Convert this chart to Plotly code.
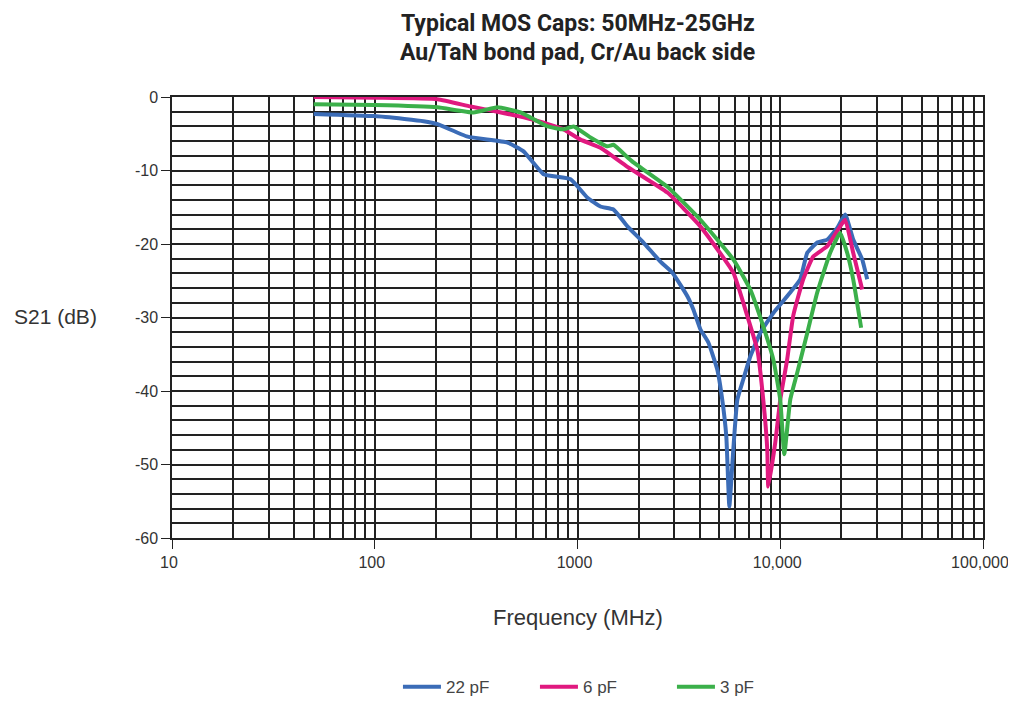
import plotly.graph_objects as go

# frequency (MHz) / S21 (dB)
freq_22pf = [50, 100, 140, 174, 204, 287, 452, 542, 680, 924, 1120, 1298, 1504,
             1763, 2114, 2564, 2938, 3483, 3727, 4036, 4420, 4894, 5176, 5420,
             5610, 5866, 6140, 6576, 7116, 7967, 9240, 11200, 12550, 13590,
             15220, 17060, 19110, 20900, 22900, 25360, 26840]
s21_22pf = [-2.3, -2.6, -3.0, -3.3, -3.7, -5.4, -6.2, -7.4, -10.5, -11.2, -13.7,
            -14.9, -15.3, -17.6, -19.8, -22.4, -23.9, -27.1, -28.9, -31.6, -33.4,
            -37.1, -41.2, -46.2, -55.7, -48.0, -41.2, -38.4, -35.3, -32.1, -29.4,
            -26.6, -24.8, -21.2, -19.8, -19.4, -17.8, -16.0, -19.4, -22.1, -24.8]

freq_6pf = [50, 100, 204, 297, 403, 607, 853, 1035, 1298, 1763, 2775, 4036, 5866,
            6880, 7710, 8245, 8630, 8730, 9450, 10000, 10820, 11580, 12980,
            14550, 17060, 19760, 20900, 22900, 25360]
s21_6pf = [0.0, -0.1, -0.3, -1.3, -2.0, -3.1, -4.4, -5.8, -6.9, -9.5, -13.0,
           -17.6, -23.9, -29.8, -34.4, -41.2, -48.0, -53.0, -47.0, -41.2, -35.7,
           -29.8, -24.8, -21.7, -20.3, -17.6, -16.7, -21.2, -26.2]

freq_3pf = [50, 100, 204, 307, 403, 524, 712, 853, 956, 1159, 1406, 1504, 1763,
            1888, 2775, 4036, 5866, 7116, 8245, 9240, 10000, 10470, 11200, 12130,
            13590, 15220, 17630, 19760, 21380, 22900, 25060]
s21_3pf = [-1.0, -1.1, -1.4, -2.1, -1.4, -2.1, -4.0, -4.4, -4.0, -5.5, -6.7, -6.5,
           -8.2, -8.9, -12.2, -16.7, -22.1, -26.2, -31.2, -35.7, -41.2, -48.6,
           -41.2, -37.5, -32.1, -26.6, -21.2, -18.5, -21.2, -24.8, -31.4]

series = [
    ("22 pF", freq_22pf, s21_22pf, "#3b6cb7"),
    ("6 pF", freq_6pf, s21_6pf, "#e0197f"),
    ("3 pF", freq_3pf, s21_3pf, "#3bb04a"),
]

x_major = [10, 100, 1000, 10000, 100000]
x_labels = ["10", "100", "1000", "10,000", "100,000"]
x_minor = [m * d for d in [10, 100, 1000, 10000] for m in range(2, 10)]
y_major = [0, -10, -20, -30, -40, -50, -60]
y_labels = ["0", "-10", "-20", "-30", "-40", "-50", "-60"]

narrow = "Liberation Sans Narrow, Arial Narrow, Liberation Sans, Arial, sans-serif"
grid_col = "#222222"

fig = go.Figure()
for name, fx, fy, col in series:
    fig.add_trace(go.Scatter(x=fx, y=fy, mode="lines", name=name,
                             line=dict(color=col, width=4, shape="spline", smoothing=0.4)))

# page body has an 8px margin, so the figure is sized to fit inside the window
fig.update_layout(
    width=1000, height=703,
    margin=dict(l=164, r=25, t=89, b=173),
    paper_bgcolor="white", plot_bgcolor="white",
    font=dict(family=narrow, size=16, color="#333333"),
    showlegend=True,
    legend=dict(orientation="h", x=0.532, xanchor="center",
                yref="container", y=0.034, yanchor="middle",
                font=dict(size=17, color="#444444"),
                entrywidth=84, entrywidthmode="pixels", itemwidth=38),
)

fig.update_xaxes(
    type="log", range=[1, 5], automargin=False,
    tickvals=x_major, ticktext=x_labels,
    ticks="outside", ticklen=9, tickcolor=grid_col,
    showgrid=True, gridcolor=grid_col, gridwidth=1.5,
    showline=True, linecolor=grid_col, linewidth=1.5, mirror=True,
    zeroline=False,
    minor=dict(tickvals=x_minor, showgrid=True, gridcolor=grid_col, gridwidth=1.5, ticks=""),
    tickfont=dict(size=16, color="#333333"),
    ticklabeloverflow="allow", ticklabelshift=-3,
)
fig.update_yaxes(
    range=[-60, 0], automargin=False,
    tickvals=y_major, ticktext=y_labels,
    ticks="outside", ticklen=9, tickcolor=grid_col,
    showgrid=True, gridcolor=grid_col, gridwidth=1.5,
    showline=True, linecolor=grid_col, linewidth=1.5, mirror=True,
    zeroline=False,
    minor=dict(dtick=2, showgrid=True, gridcolor=grid_col, gridwidth=1.5, ticks=""),
    tickfont=dict(size=16, color="#333333"),
)

title_font = dict(family="Roboto, Inter, sans-serif", size=23, color="#222222")
fig.add_annotation(text="<b>Typical MOS Caps: 50MHz-25GHz</b>", xref="paper", yref="paper",
                   x=0.5, y=1.166, showarrow=False, font=title_font, yanchor="middle")
fig.add_annotation(text="<b>Au/TaN bond pad, Cr/Au back side</b>", xref="paper", yref="paper",
                   x=0.5, y=1.100, showarrow=False, font=title_font, yanchor="middle")
fig.add_annotation(text="S21 (dB)", xref="paper", yref="paper", x=-0.144, y=0.503,
                   xanchor="center", showarrow=False,
                   font=dict(family=narrow, size=21, color="#333333"))
fig.add_annotation(text="Frequency (MHz)", xref="paper", yref="paper", x=0.5, y=-0.213,
                   xanchor="center", showarrow=False,
                   font=dict(family=narrow, size=22, color="#333333"))

fig.write_html("out.html")
